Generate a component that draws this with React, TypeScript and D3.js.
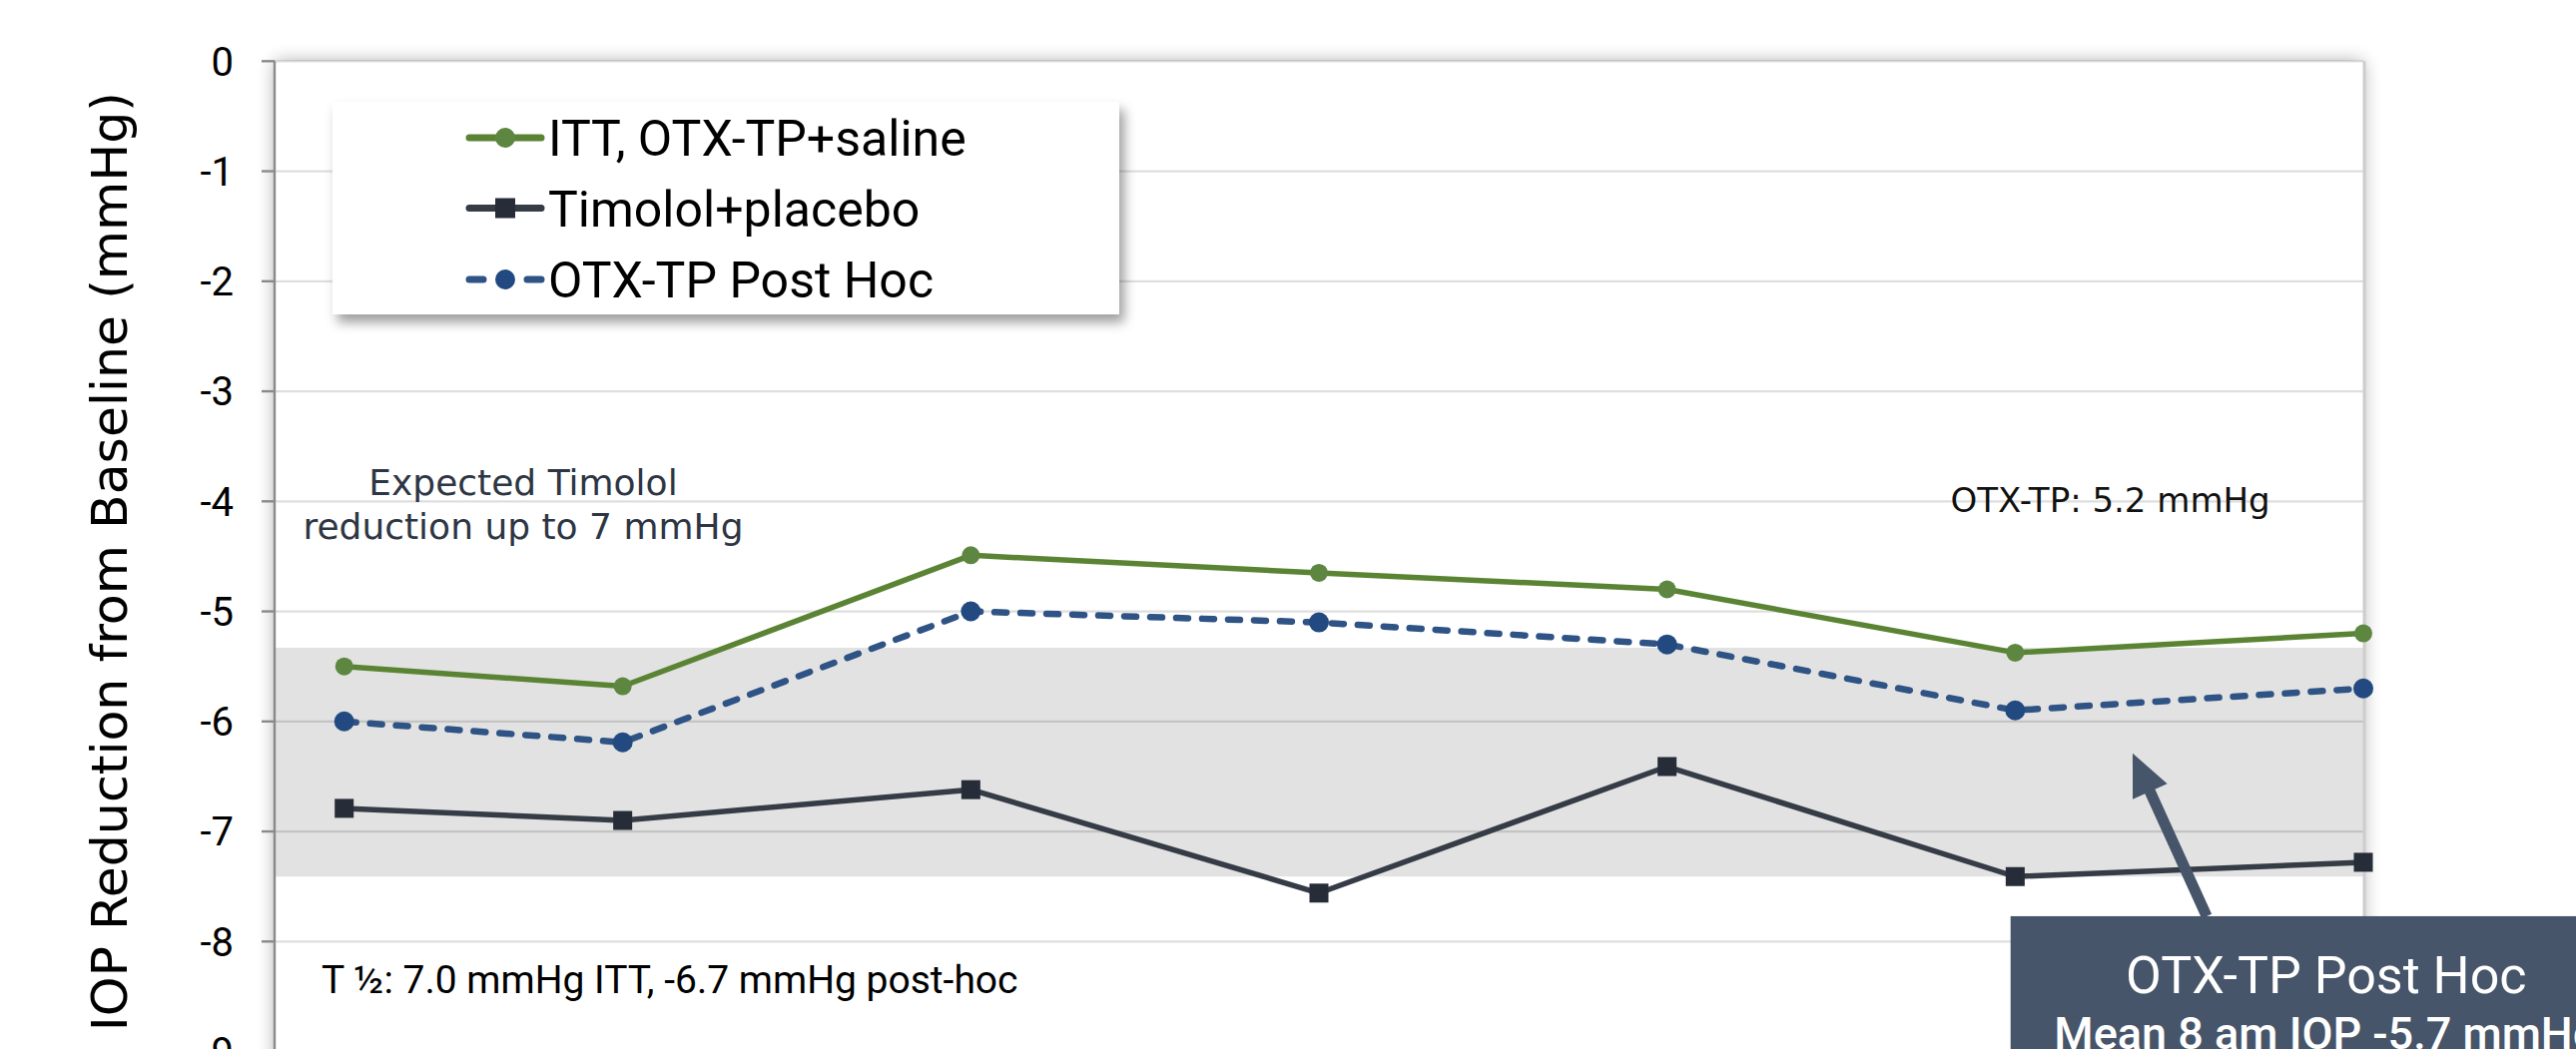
import React from "react";
import * as d3 from "d3";

// ---------- data ----------
const days = [3, 15, 30, 45, 60, 75, 90];
const ittSaline = [-5.5, -5.68, -4.49, -4.65, -4.8, -5.375, -5.2];
const timololPlacebo = [-6.79, -6.9, -6.62, -7.56, -6.41, -7.41, -7.28];
const postHoc = [-6.0, -6.19, -5.0, -5.1, -5.3, -5.9, -5.7];
const yTicks = [0, -1, -2, -3, -4, -5, -6, -7, -8, -9];
const bandRange = [-5.33, -7.41];
const seriesNames = ["ITT, OTX-TP+saline", "Timolol+placebo", "OTX-TP Post Hoc"];
const yTitle = "IOP Reduction from Baseline (mmHg)";

const W = 2580;
const H = 1051;

const x = d3.scaleLinear().domain([0, 90]).range([275, 2367]);
const y = d3.scaleLinear().domain([0, -10]).range([61.3, 1163.8]);

const NARROW = "Roboto, 'Liberation Sans', sans-serif";
const GOTHIC = "'DejaVu Sans', sans-serif";

const GREEN = "#5a8434";
const GREEN_M = "#5d8740";
const DARK = "#353c46";
const DARK_M = "#262d38";
const BLUE = "#2e5384";
const BLUE_M = "#224a80";
const CALLOUT = "#465569";

const lineGen = d3
  .line<[number, number]>()
  .x((d) => x(d[0]))
  .y((d) => y(d[1]));

const pts = (vals: number[]) => days.map((d, i) => [d, vals[i]] as [number, number]);

export default function App() {
  const x0 = x(0);
  const x1 = x(90);
  const yTop = y(0);
  const plotBottom = y(-10);

  // arrow geometry in data space
  const tip: [number, number] = [80.06, -6.29];
  const base: [number, number] = [83.25, -7.77];
  const tx = x(tip[0]);
  const ty = y(tip[1]);
  const bx = x(base[0]);
  const by = y(base[1]);
  const dx = tx - bx;
  const dy = ty - by;
  const len = Math.sqrt(dx * dx + dy * dy);
  const ux = dx / len;
  const uy = dy / len;
  const headLen = 42;
  const headHalf = 19;
  const hbx = tx - ux * headLen;
  const hby = ty - uy * headLen;
  const px = -uy;
  const py = ux;

  const legendX = 333;
  const legendY = 102;
  const legendW = 788;
  const legendH = 213;
  const rowYs = [138, 208.5, 280];
  const mx0 = 470;
  const mx1 = 542;
  const mxc = (mx0 + mx1) / 2;

  return (
    <svg
      width={W}
      height={H}
      style={{ position: "absolute", left: 0, top: 0, display: "block", background: "#fff" }}
    >
      <defs>
        <filter id="plotGlow" x="-5%" y="-10%" width="110%" height="120%">
          <feGaussianBlur in="SourceAlpha" stdDeviation="9" />
          <feComponentTransfer>
            <feFuncA type="linear" slope="0.32" />
          </feComponentTransfer>
          <feMerge>
            <feMergeNode />
            <feMergeNode in="SourceGraphic" />
          </feMerge>
        </filter>
        <filter id="legendShadow" x="-10%" y="-20%" width="125%" height="150%">
          <feDropShadow dx="5" dy="8" stdDeviation="6" floodColor="#000" floodOpacity="0.38" />
        </filter>
      </defs>

      {/* plot area */}
      <rect x={x0} y={yTop} width={x1 - x0} height={plotBottom - yTop} fill="#fff" filter="url(#plotGlow)" />

      {/* expected timolol band */}
      <rect
        x={x0}
        y={y(bandRange[0])}
        width={x1 - x0}
        height={y(bandRange[1]) - y(bandRange[0])}
        fill="#e2e2e2"
      />

      {/* gridlines */}
      {yTicks.map((t) => (
        <line key={t} x1={x0} x2={x1} y1={y(t)} y2={y(t)} stroke="rgba(0,0,0,0.13)" strokeWidth={2.2} />
      ))}

      {/* right border */}
      <line x1={x1 + 1} x2={x1 + 1} y1={yTop} y2={plotBottom} stroke="#cdcdcd" strokeWidth={3} />

      {/* y axis */}
      <line x1={x0} x2={x0} y1={yTop} y2={plotBottom} stroke="#8a8a8a" strokeWidth={2.4} />
      {yTicks.map((t) => (
        <g key={t}>
          <line x1={x0 - 13} x2={x0} y1={y(t)} y2={y(t)} stroke="#8a8a8a" strokeWidth={2.4} />
          <text
            x={x0 - 41}
            y={y(t)}
            dy="0.36em"
            textAnchor="end"
            fontFamily={NARROW}
            fontSize={40}
            fill="#000"
          >
            {String(t)}
          </text>
        </g>
      ))}

      {/* y axis title */}
      <text
        transform={`translate(127, 92) rotate(-90)`}
        textAnchor="end"
        fontFamily={GOTHIC}
        fontSize={50.5}
        fill="#000"
      >
        {yTitle}
      </text>

      {/* series lines */}
      <path d={lineGen(pts(ittSaline)) || ""} fill="none" stroke={GREEN} strokeWidth={5.5} strokeLinejoin="round" />
      <path d={lineGen(pts(timololPlacebo)) || ""} fill="none" stroke={DARK} strokeWidth={5.5} strokeLinejoin="round" />
      <path
        d={lineGen(pts(postHoc)) || ""}
        fill="none"
        stroke={BLUE}
        strokeWidth={6.5}
        strokeDasharray="12 14"
        strokeLinecap="round"
        strokeLinejoin="round"
      />

      {/* markers */}
      {pts(ittSaline).map((p, i) => (
        <circle key={"g" + i} cx={x(p[0])} cy={y(p[1])} r={9} fill={GREEN_M} />
      ))}
      {pts(postHoc).map((p, i) => (
        <circle key={"b" + i} cx={x(p[0])} cy={y(p[1])} r={10} fill={BLUE_M} />
      ))}
      {pts(timololPlacebo).map((p, i) => (
        <rect key={"d" + i} x={x(p[0]) - 9.5} y={y(p[1]) - 9.5} width={19} height={19} fill={DARK_M} />
      ))}

      {/* annotations */}
      <text textAnchor="middle" fontFamily={GOTHIC} fontSize={36} fill="#2e3644">
        <tspan x={x(10.71)} y={y(-3.94)}>Expected Timolol</tspan>
        <tspan x={x(10.71)} y={y(-4.34)}>reduction up to 7 mmHg</tspan>
      </text>
      <text x={x(79.1)} y={y(-4.1)} textAnchor="middle" fontFamily={GOTHIC} fontSize={34} fill="#111">
        OTX-TP: 5.2 mmHg
      </text>
      <text x={x(2.02)} y={y(-8.47)} fontFamily={NARROW} fontSize={39} fill="#000">
        T ½: 7.0 mmHg ITT, -6.7 mmHg post-hoc
      </text>

      {/* legend */}
      <g filter="url(#legendShadow)">
        <rect x={legendX} y={legendY} width={legendW} height={legendH} fill="#fff" />
      </g>
      {/* legend markers */}
      <line x1={mx0} x2={mx1} y1={rowYs[0]} y2={rowYs[0]} stroke={GREEN} strokeWidth={7} strokeLinecap="round" />
      <circle cx={mxc} cy={rowYs[0]} r={10} fill={GREEN_M} />
      <line x1={mx0} x2={mx1} y1={rowYs[1]} y2={rowYs[1]} stroke={DARK} strokeWidth={7} strokeLinecap="round" />
      <rect x={mxc - 10} y={rowYs[1] - 10} width={20} height={20} fill={DARK_M} />
      <line x1={mx0} x2={mx0 + 14} y1={rowYs[2]} y2={rowYs[2]} stroke={BLUE} strokeWidth={7} strokeLinecap="round" />
      <line x1={mx1 - 14} x2={mx1} y1={rowYs[2]} y2={rowYs[2]} stroke={BLUE} strokeWidth={7} strokeLinecap="round" />
      <circle cx={mxc} cy={rowYs[2]} r={10} fill={BLUE_M} />
      {seriesNames.map((n, i) => (
        <text key={n} x={549} y={rowYs[i]} dy="0.36em" fontFamily={NARROW} fontSize={50} fill="#000">
          {n}
        </text>
      ))}

      {/* callout arrow */}
      <line x1={bx} y1={by} x2={hbx + ux * 4} y2={hby + uy * 4} stroke={CALLOUT} strokeWidth={11} />
      <polygon
        points={`${tx},${ty} ${hbx + px * headHalf},${hby + py * headHalf} ${hbx - px * headHalf},${hby - py * headHalf}`}
        fill={CALLOUT}
      />

      {/* callout box */}
      <rect x={x(74.8)} y={y(-7.77)} width={700} height={300} fill={CALLOUT} />
      <text x={x(88.4)} y={y(-8.47)} textAnchor="middle" fontFamily={NARROW} fontSize={52} fill="#fff">
        OTX-TP Post Hoc
      </text>
      <text
        x={x(88.4)}
        y={y(-8.98)}
        textAnchor="middle"
        fontFamily={NARROW}
        fontSize={45}
        fontWeight={500}
        fill="#fff"
      >
        Mean 8 am IOP -5.7 mmHg
      </text>
    </svg>
  );
}
